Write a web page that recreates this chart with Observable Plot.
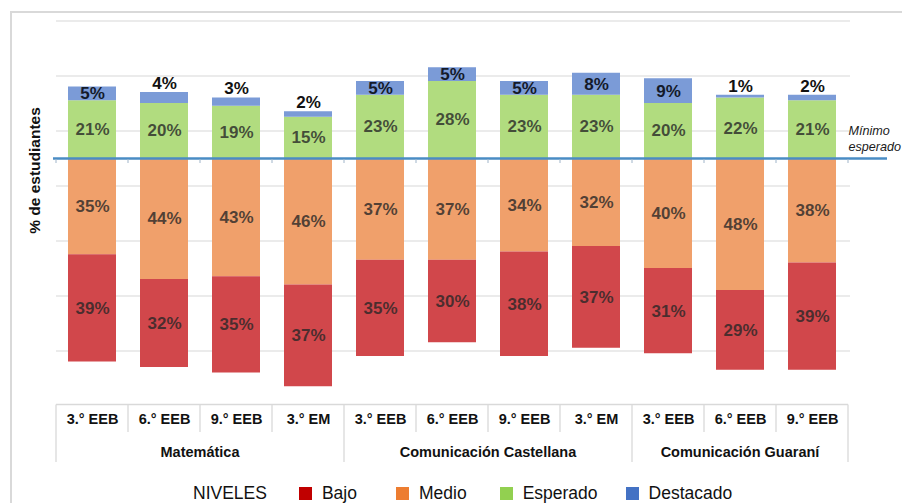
<!DOCTYPE html>
<html>
<head>
<meta charset="utf-8">
<script src="https://cdn.jsdelivr.net/npm/d3@7"></script>
<script src="https://cdn.jsdelivr.net/npm/@observablehq/plot@0.6"></script>
<style>
html,body{margin:0;padding:0;background:#fff;width:902px;height:503px;overflow:hidden;font-family:"Liberation Sans",Arial,sans-serif;}
#wrap{position:relative;width:902px;height:503px;}
#frame{position:absolute;left:10px;top:11px;width:900px;height:500px;border-top:2px solid #d9d9d9;border-left:2px solid #d9d9d9;}
#chart{position:absolute;left:0;top:0;}
#legend{position:absolute;left:0;top:482px;width:902px;height:22px;display:flex;align-items:center;padding-left:193px;box-sizing:border-box;font-size:17.5px;line-height:20px;color:#111;white-space:nowrap;}
#legend .title{margin-right:32px;}
#legend .item{display:flex;align-items:center;margin-right:32px;}
#legend .item:nth-of-type(2){margin-right:39px;}
#legend .item:nth-of-type(3){margin-right:33px;}
#legend .item:nth-of-type(4){margin-right:28px;}
#legend .sw{width:13px;height:13px;margin-right:10px;}
</style>
</head>
<body>
<div id="wrap">
  <div id="frame"></div>
  <div id="chart"></div>
  <div id="legend"></div>
</div>
<script>
// ---- data ----
const subjects = ["Matemática","Matemática","Matemática","Matemática",
  "Comunicación Castellana","Comunicación Castellana","Comunicación Castellana","Comunicación Castellana",
  "Comunicación Guaraní","Comunicación Guaraní","Comunicación Guaraní"];
const grades = ["3.° EEB","6.° EEB","9.° EEB","3.° EM","3.° EEB","6.° EEB","9.° EEB","3.° EM","3.° EEB","6.° EEB","9.° EEB"];
const bajo      = [39, 32, 35, 37, 35, 30, 38, 37, 31, 29, 39];
const medio     = [35, 44, 43, 46, 37, 37, 34, 32, 40, 48, 38];
const esperado  = [21, 20, 19, 15, 23, 28, 23, 23, 20, 22, 21];
const destacado = [ 5,  4,  3,  2,  5,  5,  5,  8,  9,  1,  2];
const levels = ["Bajo","Medio","Esperado","Destacado"];
const gridValues = [50, 30, 10, -10, -30, -50, -70];
const legendTitle = "NIVELES";
const refLabel = "Mínimo\nesperado";
const yLabel = "% de estudiantes";

// ---- styles ----
const barColors = ["#d1474b","#f0a06b","#b1dc7f","#7b9bd7"];
const legendColors = ["#c00000","#ed7d31","#92d050","#4472c4"];

// ---- build table ----
const keys = grades.map((g, i) => subjects[i] + "|" + g);
const rows = [];
// order: closest-to-zero first for diverging stack
keys.forEach((k, i) => rows.push({key: k, level: "Medio", v: -medio[i], pct: medio[i]}));
keys.forEach((k, i) => rows.push({key: k, level: "Bajo", v: -bajo[i], pct: bajo[i]}));
keys.forEach((k, i) => rows.push({key: k, level: "Esperado", v: esperado[i], pct: esperado[i]}));
keys.forEach((k, i) => rows.push({key: k, level: "Destacado", v: destacado[i], pct: destacado[i]}));

const small = d => d.level === "Destacado" && d.pct < 5;
const W = 902, H = 470, mL = 56, mR = 54, mT = 20.5, mB = 64.5;
const font = "Liberation Sans, Arial, sans-serif";

const plot = Plot.plot({
  width: W, height: H,
  marginLeft: mL, marginRight: mR, marginTop: mT, marginBottom: mB,
  style: {fontFamily: font, background: "transparent", overflow: "visible", color: "#111"},
  x: {type: "band", domain: keys, paddingInner: 1/3, paddingOuter: 1/6, axis: null},
  y: {domain: [-90, 50], axis: null},
  color: {domain: levels, range: barColors},
  marks: [
    Plot.ruleY(gridValues, {stroke: "#e4e4e4", strokeWidth: 1.3, insetRight: -2}),
    Plot.barY(rows, Plot.stackY({x: "key", y: "v", fill: "level"})),
    Plot.text(rows, Plot.stackY({x: "key", y: "v", z: "level",
      text: d => d.level !== "Destacado" ? d.pct + "%" : null,
      fill: "#262626", fillOpacity: 0.78, fontSize: 17, fontWeight: "bold"})),
    Plot.text(rows, Plot.stackY({x: "key", y: "v", z: "level",
      text: d => d.level === "Destacado" && !small(d) ? d.pct + "%" : null,
      fill: "#141a2a", fontSize: 17, fontWeight: "bold"})),
    Plot.text(rows, Plot.stackY2({x: "key", y: "v", z: "level",
      text: d => small(d) ? d.pct + "%" : null,
      fill: "#111", fontSize: 17, fontWeight: "bold", dy: -9})),
    Plot.ruleY([0], {stroke: "#4a8cc4", strokeWidth: 2.5, insetLeft: -3, insetRight: -39}),
    Plot.text([0], {y: d => d, frameAnchor: "right", text: () => refLabel, textAnchor: "start",
      lineAnchor: "bottom", dx: 0, dy: -8, fontSize: 12.6, fontStyle: "italic", fill: "#1a1a1a", lineHeight: 1.25}),
    Plot.text(keys, {x: d => d, text: (d, i) => grades[i], frameAnchor: "bottom", dy: 17.5,
      fontSize: 14.5, fontWeight: "bold", fill: "#111"}),
    Plot.text([yLabel], {frameAnchor: "left", textAnchor: "middle", rotate: -90, dx: -21, dy: -43,
      fontSize: 15.5, fontWeight: "bold", fill: "#111"})
  ]
});
document.getElementById("chart").appendChild(plot);

// ---- category table lines, group labels, axis ticks on reference line ----
const xs = plot.scale("x");
const ys = plot.scale("y");
const step = xs.step, bw = xs.bandwidth;
const off = (step - bw) / 2;
const svg = d3.select(plot);
const g = svg.append("g");
const tableTop = 404.5, row1 = 432, row2 = 462;
const bounds = keys.map(k => xs.apply(k) - off);
const endX = xs.apply(keys[keys.length - 1]) + bw + off;
const y0 = ys.apply(0);
// top line
g.append("line").attr("x1", bounds[0]).attr("x2", endX).attr("y1", tableTop).attr("y2", tableTop)
  .attr("stroke", "#d9d9d9").attr("stroke-width", 1.3);
const allB = bounds.concat([endX]);
allB.forEach((b, i) => {
  const isGroup = i === 0 || i === keys.length || subjects[i] !== subjects[i - 1];
  g.append("line").attr("x1", b).attr("x2", b).attr("y1", tableTop).attr("y2", isGroup ? row2 : row1)
    .attr("stroke", "#d9d9d9").attr("stroke-width", 1.3);
  g.append("line").attr("x1", b).attr("x2", b).attr("y1", y0 + 1).attr("y2", y0 + 5)
    .attr("stroke", "#9fb4c9").attr("stroke-width", 1);
});
// group labels
const groups = [...new Set(subjects)];
groups.forEach(s => {
  const idx = subjects.map((d, i) => d === s ? i : -1).filter(i => i >= 0);
  const a = allB[idx[0]], b = allB[idx[idx.length - 1] + 1];
  g.append("text").attr("x", (a + b) / 2).attr("y", 452).attr("dy", "0.35em")
    .attr("text-anchor", "middle").attr("font-size", 14.5).attr("font-weight", "bold")
    .attr("font-family", font).attr("fill", "#111").text(s);
});

// ---- legend ----
const lg = d3.select("#legend");
lg.append("span").attr("class", "title").text(legendTitle);
levels.forEach((l, i) => {
  const it = lg.append("span").attr("class", "item");
  it.append("span").attr("class", "sw").style("background", legendColors[i]);
  it.append("span").text(l);
});
</script>
</body>
</html>
